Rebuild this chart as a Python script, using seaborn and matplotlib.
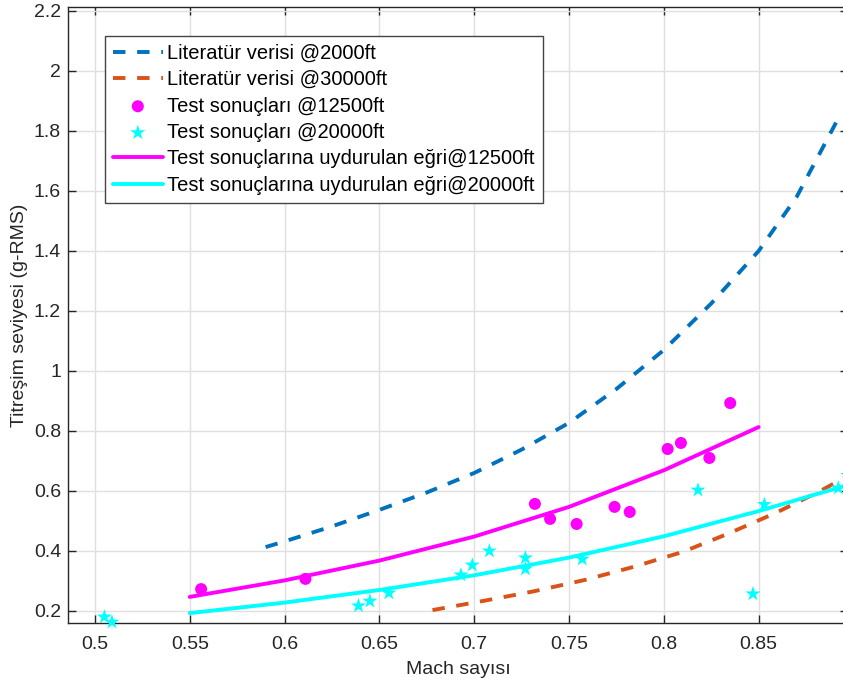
import matplotlib
matplotlib.use("Agg")
import matplotlib.pyplot as plt
import seaborn as sns

# Literature curves
lit2000_x = [0.590, 0.600, 0.625, 0.650, 0.675, 0.700, 0.725, 0.750, 0.775, 0.800, 0.825, 0.850, 0.870, 0.8935]
lit2000_y = [0.413, 0.432, 0.482, 0.537, 0.595, 0.660, 0.738, 0.827, 0.940, 1.070, 1.225, 1.400, 1.580, 1.860]
lit30000_x = [0.678, 0.706, 0.731, 0.758, 0.784, 0.810, 0.834, 0.859, 0.881, 0.897]
lit30000_y = [0.203, 0.235, 0.265, 0.303, 0.347, 0.397, 0.458, 0.527, 0.595, 0.650]

# Test measurements
test12500_x = [0.556, 0.611, 0.732, 0.740, 0.754, 0.774, 0.782, 0.802, 0.809, 0.824, 0.835]
test12500_y = [0.273, 0.307, 0.557, 0.507, 0.490, 0.547, 0.530, 0.740, 0.760, 0.710, 0.893]
test20000_x = [0.505, 0.509, 0.639, 0.645, 0.655, 0.693, 0.699, 0.708, 0.727, 0.727,
               0.757, 0.818, 0.847, 0.853, 0.892, 0.897]
test20000_y = [0.180, 0.163, 0.217, 0.233, 0.260, 0.320, 0.353, 0.400, 0.377, 0.340,
               0.373, 0.603, 0.257, 0.555, 0.610, 0.652]

# Fitted curves
fit12500_x = [0.55, 0.60, 0.65, 0.70, 0.75, 0.80, 0.85]
fit12500_y = [0.247, 0.302, 0.368, 0.448, 0.547, 0.669, 0.813]
fit20000_x = [0.55, 0.60, 0.65, 0.70, 0.75, 0.80, 0.85, 0.897]
fit20000_y = [0.193, 0.228, 0.270, 0.319, 0.378, 0.449, 0.533, 0.620]

labels = [
    "Literatür verisi @2000ft",
    "Literatür verisi @30000ft",
    "Test sonuçları @12500ft",
    "Test sonuçları @20000ft",
    "Test sonuçlarına uydurulan eğri@12500ft",
    "Test sonuçlarına uydurulan eğri@20000ft",
]

xticks = [0.5, 0.55, 0.6, 0.65, 0.7, 0.75, 0.8, 0.85]
xtick_labels = ["0.5", "0.55", "0.6", "0.65", "0.7", "0.75", "0.8", "0.85"]
yticks = [0.2, 0.4, 0.6, 0.8, 1.0, 1.2, 1.4, 1.6, 1.8, 2.0, 2.2]
ytick_labels = ["0.2", "0.4", "0.6", "0.8", "1", "1.2", "1.4", "1.6", "1.8", "2", "2.2"]

sns.set_theme(style="whitegrid")
plt.rcParams["font.family"] = ["Liberation Sans", "DejaVu Sans"]

W, H = 843, 686
fig = plt.figure(figsize=(W / 100, H / 100), dpi=100)
fig.patch.set_facecolor("white")
ax = fig.add_axes([68 / W, (H - 623.3) / H, 780 / W, (623.3 - 6.7) / H])
ax.set_facecolor("white")

blue = "#0072BD"
orange = "#D95319"
magenta = "#FF00FF"
cyan = "#00FFFF"
lw = 2.8
fs = 14

sns.lineplot(x=lit2000_x, y=lit2000_y, ax=ax, color=blue, linewidth=lw, label=labels[0])
ax.lines[-1].set_dashes([3.2, 3.0])
sns.lineplot(x=lit30000_x, y=lit30000_y, ax=ax, color=orange, linewidth=lw, label=labels[1])
ax.lines[-1].set_dashes([3.2, 3.0])
sns.scatterplot(x=test12500_x, y=test12500_y, ax=ax, color=magenta, marker="o", s=75,
                edgecolor="none", label=labels[2], clip_on=False, zorder=3)
sns.scatterplot(x=test20000_x, y=test20000_y, ax=ax, color=cyan, marker="*", s=130,
                edgecolor="none", label=labels[3], clip_on=False, zorder=3)
sns.lineplot(x=fit12500_x, y=fit12500_y, ax=ax, color=magenta, linewidth=lw, label=labels[4])
sns.lineplot(x=fit20000_x, y=fit20000_y, ax=ax, color=cyan, linewidth=lw, label=labels[5])

ax.set_xlim(0.4858, 0.8971)
ax.set_ylim(0.159, 2.214)
ax.set_xticks(xticks)
ax.set_xticklabels(xtick_labels)
ax.set_yticks(yticks)
ax.set_yticklabels(ytick_labels)

dark = "#262626"
ax.grid(True, color="#e0e0e0", linewidth=1.0)
for sp in ax.spines.values():
    sp.set_visible(True)
    sp.set_color(dark)
    sp.set_linewidth(1.0)
ax.tick_params(axis="both", which="both", direction="in", length=5.5, width=1.0,
               color=dark, labelcolor=dark, labelsize=fs,
               top=True, right=True, bottom=True, left=True)
ax.tick_params(axis="x", pad=9)
ax.tick_params(axis="y", pad=5)

ax.set_xlabel("Mach sayısı", fontsize=fs, color=dark, labelpad=6)
ax.set_ylabel("Titreşim seviyesi (g-RMS)", fontsize=fs, color=dark, labelpad=4)

handles, labs = ax.get_legend_handles_labels()
leg = ax.legend(handles, labs, loc="upper left", bbox_to_anchor=(0.0474, 0.9525),
                borderaxespad=0, frameon=True, fancybox=False, framealpha=1,
                edgecolor="#444444", facecolor="white", fontsize=14.5,
                handlelength=2.5, handletextpad=0.22, labelspacing=0.37,
                borderpad=0.38, markerscale=1.0)
leg.get_frame().set_linewidth(1.0)
for t in leg.get_texts():
    t.set_color("black")

fig.savefig("out.png", dpi=100, facecolor="white")
